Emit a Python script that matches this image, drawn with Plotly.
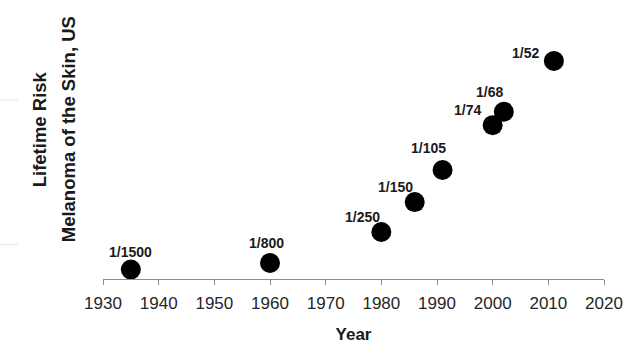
import plotly.graph_objects as go

years = [1935, 1960, 1980, 1986, 1991, 2000, 2002, 2011]
denoms = [1500, 800, 250, 150, 105, 74, 68, 52]
labels = ["1/%d" % d for d in denoms]
risk = [1.0 / d for d in denoms]

x_ticks = list(range(1930, 2021, 10))

# label offsets in pixels (dx, dy)
offsets = [(0, 18), (-4, 20), (-19, 15), (-19, 15), (-14, 22), (-25, 15), (-14, 20), (-28, 8)]

fig = go.Figure()
fig.add_trace(go.Scatter(
    x=years, y=risk, mode="markers",
    marker=dict(color="black", size=20, line=dict(width=0)),
    hoverinfo="skip",
))

for xv, yv, lab, (dx, dy) in zip(years, risk, labels, offsets):
    fig.add_annotation(x=xv, y=yv, xref="x", yref="y", text="<b>%s</b>" % lab, showarrow=False,
                       xshift=dx, yshift=dy,
                       font=dict(family="Liberation Sans", size=14, color="#1a1a1a"))

# y-axis title as two lines
for txt, px in [("Lifetime Risk", 39.5), ("Melanoma of the Skin, US", 68.5)]:
    fig.add_annotation(xref="paper", yref="paper", x=(px-103)/501, y=(279.5-130)/277.5,
                       text="<b>%s</b>" % txt, textangle=-90, showarrow=False,
                       xanchor="center", yanchor="middle",
                       font=dict(family="Liberation Sans", size=18.5, color="#1a1a1a"))

# faint leftover lines at left
for py in [100, 245]:
    fig.add_shape(type="line", xref="paper", yref="paper",
                  x0=-103/501, x1=(18-103)/501,
                  y0=(279.5-py)/277.5, y1=(279.5-py)/277.5,
                  line=dict(color="#e6e6e6", width=1))

fig.update_layout(
    width=641, height=354,
    margin=dict(l=103, r=37, t=2, b=74.5, autoexpand=False),
    paper_bgcolor="white", plot_bgcolor="white",
    showlegend=False,
    xaxis=dict(range=[1930, 2020], tickvals=x_ticks, showgrid=False, zeroline=False,
               showline=True, linecolor="#8c8c8c", linewidth=1,
               ticks="outside", ticklen=5, tickcolor="#8c8c8c", ticklabelstandoff=4,
               tickfont=dict(family="Liberation Sans", size=17, color="#262626"),
               title=dict(text="<b>Year</b>", standoff=15,
                          font=dict(family="Liberation Sans", size=17, color="#1a1a1a"))),
    yaxis=dict(range=[-0.000178, 0.02447], showgrid=False, zeroline=False,
               showline=False, showticklabels=False, ticks=""),
)

fig.write_html("out.html")
